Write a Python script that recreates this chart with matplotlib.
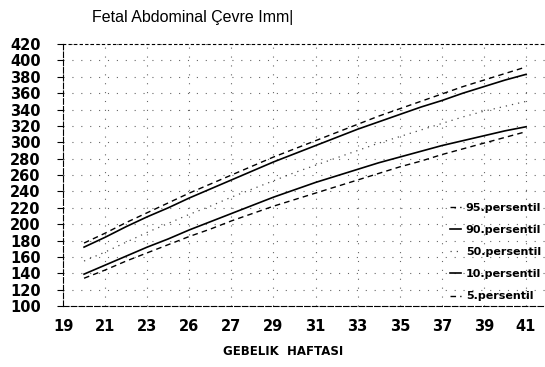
import numpy as np
import matplotlib
matplotlib.use("Agg")
from matplotlib import pyplot as plt

# gestational week vs abdominal circumference (mm)
weeks = list(range(20, 42))
p95 = [177, 189, 202, 214, 226, 238, 249, 260, 271, 282, 292, 302, 312, 322, 332, 341, 350, 359, 368, 376, 384, 392]
p90 = [172, 184, 197, 209, 220, 232, 243, 254, 265, 276, 286, 296, 306, 316, 325, 334, 343, 351, 360, 368, 376, 383]
p50 = [155, 166, 178, 190, 201, 212, 222, 233, 243, 253, 263, 272, 281, 290, 299, 307, 315, 323, 331, 338, 344, 350]
p10 = [139, 150, 161, 172, 182, 193, 203, 213, 223, 233, 242, 251, 259, 267, 275, 282, 289, 296, 302, 308, 314, 319]
p05 = [134, 144, 155, 165, 175, 185, 194, 204, 213, 222, 230, 238, 246, 254, 262, 270, 277, 285, 292, 299, 306, 313]

xticks = [19, 21, 23, 25, 27, 29, 31, 33, 35, 37, 39, 41]
xlabels = ["19", "21", "23", "26", "27", "29", "31", "33", "35", "37", "39", "41"]
yticks = list(range(100, 421, 20))

fig = plt.figure(figsize=(5.45, 3.67), dpi=100)
ax = fig.add_axes([0.1156, 0.166, 0.8844, 0.714])

ax.plot(weeks, p95, color="black", lw=1.0, ls=(0, (4, 3)), label="95.persentil")
ax.plot(weeks, p90, color="black", lw=1.2, ls="-", label="90.persentil")
ax.plot(weeks, p50, color="black", lw=0.9, ls=(0, (1, 4)), alpha=0.7, label="50.persentil")
ax.plot(weeks, p10, color="black", lw=1.2, ls="-", label="10.persentil")
ax.plot(weeks, p05, color="black", lw=1.0, ls=(0, (4, 3)), label="5.persentil")

ax.set_xlim(19, 41.9)
ax.set_ylim(100, 420)
ax.set_xticks(xticks)
ax.set_xticklabels(xlabels)
ax.set_yticks(yticks)
ax.tick_params(axis="x", length=0, pad=9, labelsize=10.5)
ax.tick_params(axis="y", length=4, pad=12, labelsize=10.5)
for t in ax.get_xticklabels() + ax.get_yticklabels():
    t.set_fontweight("bold")

ax.grid(True, color="black", ls=(0, (1, 7)), lw=0.8, alpha=0.6)
ax.spines["right"].set_visible(False)
ax.spines["top"].set_linestyle((0, (2, 3)))
ax.spines["left"].set_linestyle((0, (5, 2)))
ax.spines["bottom"].set_linestyle((0, (5, 2)))
for s in ["top", "left", "bottom"]:
    ax.spines[s].set_linewidth(0.8)

fig.text(0.168, 0.951, "Fetal Abdominal Çevre Imm|", fontsize=11.5,
         family=["Liberation Sans Narrow", "Liberation Sans", "DejaVu Sans"], va="center")
fig.text(0.52, 0.041, "GEBELIK  HAFTASI", fontsize=8.5, fontweight="bold", ha="center", va="center")

leg = ax.legend(loc="upper left", bbox_to_anchor=(0.826, 0.448), bbox_transform=fig.transFigure,
                frameon=False, handlelength=1.0, handletextpad=0.4, labelspacing=1.1,
                borderpad=0, borderaxespad=0, prop={"size": 8, "weight": "bold"})

fig.savefig("out.png", dpi=100)
